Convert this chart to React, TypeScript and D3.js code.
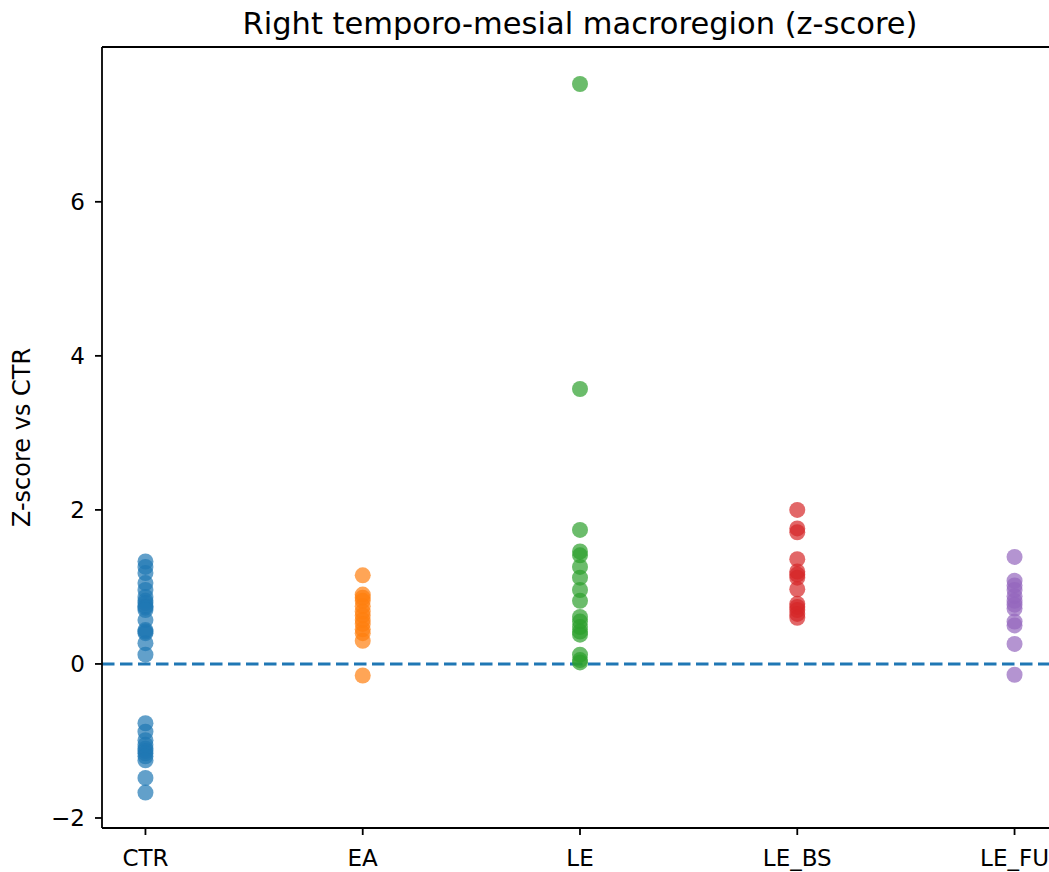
import React from "react";
import * as d3 from "d3";

// groups on the x axis
const groups = ["CTR", "EA", "LE", "LE_BS", "LE_FU"];
const colors = ["#1f77b4", "#ff7f0e", "#2ca02c", "#d62728", "#9467bd"];

// z-scores per group
const ctrScores = [
  1.33, 1.26, 1.18, 1.05, 0.96, 0.87, 0.82, 0.79, 0.75, 0.73, 0.7, 0.57, 0.44, 0.42, 0.4,
  0.27, 0.12, -0.77, -0.88, -0.99, -1.05, -1.1, -1.13, -1.16, -1.2, -1.25, -1.48, -1.67,
];
const eaScores = [1.15, 0.9, 0.86, 0.82, 0.75, 0.68, 0.63, 0.57, 0.52, 0.45, 0.4, 0.3, -0.15];
const leScores = [
  7.53, 3.57, 1.74, 1.46, 1.41, 1.26, 1.12, 0.96, 0.82, 0.61, 0.55, 0.48, 0.42, 0.38, 0.12,
  0.05, 0.02,
];
const leBsScores = [2.0, 1.76, 1.71, 1.36, 1.2, 1.16, 1.12, 0.97, 0.78, 0.74, 0.7, 0.65, 0.6];
const leFuScores = [1.39, 1.08, 1.02, 0.96, 0.88, 0.82, 0.77, 0.72, 0.55, 0.5, 0.26, -0.14];

const allScores = [ctrScores, eaScores, leScores, leBsScores, leFuScores];
const yTicks = [-2, 0, 2, 4, 6];

export default function App() {
  const w = 1049;
  const h = 872;
  const left = 102;
  const top = 47;
  const bottom = 828;

  // categorical x axis with matplotlib-like margins (-0.2 .. 4.2)
  const xScale = d3.scaleLinear().domain([-0.2, 4.2]).range([left, 1058]);
  const yScale = d3.scaleLinear().domain([-2.13, 8.01]).range([bottom, top]);

  const points = allScores.flatMap((vals, gi) =>
    vals.map((v) => ({ gi, v }))
  );

  const font = "'DejaVu Sans', sans-serif";
  const tickFont = 23;

  return (
    <svg
      width={w}
      height={h}
      style={{ position: "absolute", left: 0, top: 0, background: "#fff" }}
      fontFamily={font}
    >
      <text x={580} y={34} textAnchor="middle" fontSize={30.5} fill="#000">
        Right temporo-mesial macroregion (z-score)
      </text>

      {/* zero line */}
      <line
        x1={left}
        x2={w}
        y1={yScale(0)}
        y2={yScale(0)}
        stroke="#1f77b4"
        strokeWidth={3}
        strokeDasharray="12.5,5.5"
      />

      {points.map((p, i) => (
        <circle
          key={i}
          cx={xScale(p.gi)}
          cy={yScale(p.v)}
          r={8}
          fill={colors[p.gi]}
          fillOpacity={0.7}
        />
      ))}

      {/* spines */}
      <line x1={left} x2={w} y1={top} y2={top} stroke="#000" strokeWidth={1.8} />
      <line x1={left} x2={w} y1={bottom} y2={bottom} stroke="#000" strokeWidth={1.8} />
      <line x1={left} x2={left} y1={top} y2={bottom} stroke="#000" strokeWidth={1.8} />

      {/* y ticks */}
      {yTicks.map((t) => (
        <g key={t}>
          <line
            x1={left - 7}
            x2={left}
            y1={yScale(t)}
            y2={yScale(t)}
            stroke="#000"
            strokeWidth={1.8}
          />
          <text
            x={left - 17}
            y={yScale(t)}
            dy="0.36em"
            textAnchor="end"
            fontSize={tickFont}
            fill="#000"
          >
            {t < 0 ? "\u2212" + Math.abs(t) : t}
          </text>
        </g>
      ))}

      {/* x ticks */}
      {groups.map((g, i) => (
        <g key={g}>
          <line
            x1={xScale(i)}
            x2={xScale(i)}
            y1={bottom}
            y2={bottom + 7}
            stroke="#000"
            strokeWidth={1.8}
          />
          <text
            x={xScale(i)}
            y={bottom + 38}
            textAnchor="middle"
            fontSize={tickFont}
            fill="#000"
          >
            {g}
          </text>
        </g>
      ))}

      <text
        transform={`translate(30, ${(top + bottom) / 2}) rotate(-90)`}
        textAnchor="middle"
        fontSize={24}
        fill="#000"
      >
        Z-score vs CTR
      </text>
    </svg>
  );
}
